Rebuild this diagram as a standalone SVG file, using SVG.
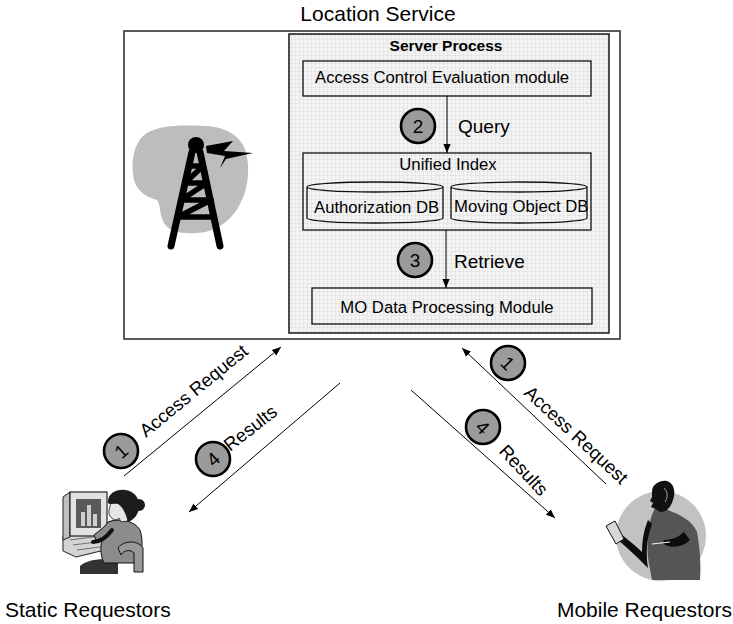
<svg xmlns="http://www.w3.org/2000/svg" width="733" height="624" viewBox="0 0 733 624">
  <defs>
    <style>
      .t { font-family: "Liberation Sans", Arial, Helvetica, sans-serif; fill: #000; }
      .lbl { font-size: 16.7px; }
      .big { font-size: 21px; }
      .step { font-size: 19px; }
      .rot { font-size: 18.5px; }
      .box { fill: none; stroke: #111; stroke-width: 1.3; }
      .frame { fill: #fff; stroke: #333; stroke-width: 1.6; }
      .badge circle { fill: #9b9b9b; stroke: #000; stroke-width: 2.6; }
      .badge text { font-family: "Liberation Sans", Arial, sans-serif; font-size: 19px; text-anchor: middle; fill: #000; }
      .conn { fill: none; stroke: #000; stroke-width: 1; marker-end: url(#ah); }
    </style>
    <marker id="ah" viewBox="0 0 10 10" refX="10" refY="5" markerWidth="9" markerHeight="9" markerUnits="userSpaceOnUse" orient="auto">
      <path d="M0,1 L10,5 L0,9 Z" fill="#000"/>
    </marker>
    <pattern id="grid" width="4" height="4" patternUnits="userSpaceOnUse">
      <rect width="4" height="4" fill="#f4f4f4"/>
      <path d="M4,0 V4 M0,4 H4" stroke="#cdcdcd" stroke-width="0.6"/>
    </pattern>
  </defs>

  <!-- Location Service container -->
  <g id="location-service">
    <text class="t big" x="378" y="21" text-anchor="middle">Location Service</text>
    <rect class="frame" x="124" y="31" width="496" height="308"/>
    <!-- antenna tower icon -->
    <g id="tower-icon">
      <path d="M143,136 C155,125 180,125 205,126 C229,127 242,138 246,152 C251,172 247,192 239,206 C231,221 214,233 196,233 C182,234 169,232 164,223 C159,214 161,205 157,200 C149,198 139,193 135,183 C131,170 131,148 143,136 Z" fill="#bdbdbd"/>
      <circle cx="196" cy="145" r="8" fill="#000"/>
      <g stroke="#000" stroke-linecap="round" stroke-linejoin="round" fill="none">
        <path d="M192,152 L171,246 M200,152 L220,246" stroke-width="7"/>
        <path d="M189,166 H203 L185,183 H207 L181,200 H211 L178,217 H214" stroke-width="5.5"/>
      </g>
      <polygon points="206,146 233,141 224,151 253,153 226,159 220,168 225,156 207,153" fill="#000"/>
    </g>
  </g>

  <!-- Server Process -->
  <g id="server-process">
    <rect x="289" y="34" width="320" height="299" fill="url(#grid)" stroke="#222" stroke-width="1.6"/>
    <text class="t" x="446" y="51" text-anchor="middle" font-size="15.5" font-weight="bold">Server Process</text>
  </g>

  <g id="access-control-module">
    <rect class="box" x="303" y="61" width="288" height="35"/>
    <text class="t lbl" x="315" y="83">Access Control Evaluation module</text>
  </g>

  <g id="unified-index">
    <rect class="box" x="303" y="153" width="288" height="77"/>
    <text class="t lbl" x="448" y="170" text-anchor="middle">Unified Index</text>
  </g>

  <g id="authorization-db">
    <path class="box" d="M307,187 A68,5 0 0 1 443,187 L443,218 A68,5 0 0 1 307,218 Z M307,187 A68,5 0 0 0 443,187"/>
    <text class="t lbl" x="314" y="213">Authorization DB</text>
  </g>

  <g id="moving-object-db">
    <path class="box" d="M451,187 A68,5 0 0 1 587,187 L587,218 A68,5 0 0 1 451,218 Z M451,187 A68,5 0 0 0 587,187"/>
    <text class="t lbl" x="454" y="212">Moving Object DB</text>
  </g>

  <g id="mo-data-processing">
    <rect class="box" x="312" y="288" width="280" height="36"/>
    <text class="t lbl" x="447" y="313" text-anchor="middle">MO Data Processing Module</text>
  </g>

  <!-- Static requestor: person at a desktop computer -->
  <g id="static-requestors">
    <!-- desk and keyboard -->
    <polygon points="63,536 101,531 113,548 76,557 63,551" fill="#d4d4d4" stroke="#222" stroke-width="1"/>
    <path d="M70,540 L100,536 M73,545 L104,541 M77,550 L107,546" stroke="#555" stroke-width="0.8"/>
    <!-- monitor -->
    <polygon points="63,497 70,492 70,537 63,540" fill="#bfbfbf" stroke="#222" stroke-width="1"/>
    <rect x="70" y="492" width="37" height="44" fill="#e2e2e2" stroke="#222" stroke-width="1.2"/>
    <rect x="76" y="499" width="25" height="29" fill="#5a5a5a"/>
    <rect x="81" y="512" width="4" height="14" fill="#cfcfcf"/>
    <rect x="87" y="505" width="4" height="21" fill="#cfcfcf"/>
    <rect x="93" y="514" width="4" height="12" fill="#cfcfcf"/>
    <!-- legs -->
    <path d="M80,566 C90,558 108,558 118,562 L118,574 L80,574 Z" fill="#333"/>
    <!-- body -->
    <path d="M108,522 C118,518 134,520 140,530 C144,542 142,556 136,563 L104,563 C100,555 100,545 103,538 L96,540 L94,535 L104,527 Z" fill="#8c8c8c" stroke="#111" stroke-width="1"/>
    <!-- arm to keyboard -->
    <path d="M112,530 C106,538 100,542 93,542" stroke="#111" stroke-width="4" fill="none" stroke-linecap="round"/>
    <!-- head: face and hair -->
    <path d="M111,503 C109,509 108,513 110,516 C112,520 117,521 119,518 L121,522 L128,521 C130,512 128,505 122,502 Z" fill="#e6e6e6" stroke="#111" stroke-width="0.8"/>
    <path d="M108,503 C107,494 116,489 125,490 C134,491 139,497 139,506 C139,514 134,520 128,522 C126,515 124,508 118,504 C114,503 110,505 108,503 Z" fill="#1c1c1c"/>
    <circle cx="139" cy="505" r="6" fill="#1c1c1c"/>
    <!-- chair -->
    <path d="M118,548 C124,540 138,540 143,548 L143,572 L134,572 L134,553 C130,549 124,550 121,555 Z" fill="#999" stroke="#111" stroke-width="1"/>
  </g>

  <!-- Mobile requestor: person with handheld device -->
  <g id="mobile-requestors">
    <circle cx="661" cy="536" r="45" fill="#c2c2c2"/>
    <!-- body -->
    <path d="M655,508 L668,510 C680,515 692,520 697,532 C700,548 701,565 700,580 L652,580 C650,568 646,555 648,540 C648,528 650,518 655,508 Z" fill="#555"/>
    <!-- head -->
    <path d="M652,492 C652,484 660,480 667,481 C674,483 676,492 673,500 C671,507 667,512 660,512 C657,510 654,508 651,507 L653,503 L650,501 L652,497 Z" fill="#111"/>
    <path d="M664,488 C668,492 668,498 665,502" stroke="#ddd" stroke-width="0.7" fill="none"/>
    <!-- arm holding the device -->
    <path d="M652,524 C646,540 646,555 648,568 C640,560 630,550 618,540 L622,535 C632,543 638,548 642,552 C642,540 644,530 648,520 Z" fill="#0d0d0d"/>
    <polygon points="606,526 615,521 624,539 616,544" fill="#d8d8d8" stroke="#111" stroke-width="1"/>
    <!-- other hand with stylus -->
    <path d="M690,540 C684,546 676,548 668,546 C664,545 662,542 664,540 C670,540 678,538 684,532 Z" fill="#0d0d0d"/>
    <line x1="652" y1="544" x2="670" y2="542" stroke="#f4f4f4" stroke-width="1.2"/>
  </g>

  <!-- Bottom captions -->
  <text class="t big" x="5" y="617">Static Requestors</text>
  <text class="t big" x="732" y="617" text-anchor="end">Mobile Requestors</text>

  <!-- Connectors with step badges and labels -->
  <g id="connectors">
    <line class="conn" x1="447" y1="96" x2="447" y2="153"/>
    <line class="conn" x1="446" y1="230" x2="446" y2="288"/>
    <line class="conn" x1="124" y1="476" x2="281" y2="347"/>
    <line class="conn" x1="340" y1="383" x2="189" y2="512"/>
    <line class="conn" x1="606" y1="484" x2="462" y2="348"/>
    <line class="conn" x1="411" y1="390" x2="555" y2="518"/>

    <g class="badge" transform="translate(418,126)"><circle r="17"/><text y="7">2</text></g>
    <g class="badge" transform="translate(415,260)"><circle r="17"/><text y="7">3</text></g>
    <g class="badge" transform="translate(121,451) rotate(-42)"><circle r="17"/><text y="7">1</text></g>
    <g class="badge" transform="translate(213,459) rotate(-42)"><circle r="17"/><text y="7">4</text></g>
    <g class="badge" transform="translate(508,363) rotate(45)"><circle r="17"/><text y="7">1</text></g>
    <g class="badge" transform="translate(483,427) rotate(45)"><circle r="17"/><text y="7">4</text></g>

    <text class="t step" x="458" y="133">Query</text>
    <text class="t step" x="454" y="268">Retrieve</text>
    <text class="t rot" transform="translate(146,438) rotate(-39.4)">Access Request</text>
    <text class="t rot" transform="translate(230,452) rotate(-38)">Results</text>
    <text class="t rot" transform="translate(523,394) rotate(43)">Access Request</text>
    <text class="t rot" transform="translate(498,452) rotate(47)">Results</text>
  </g>
</svg>
